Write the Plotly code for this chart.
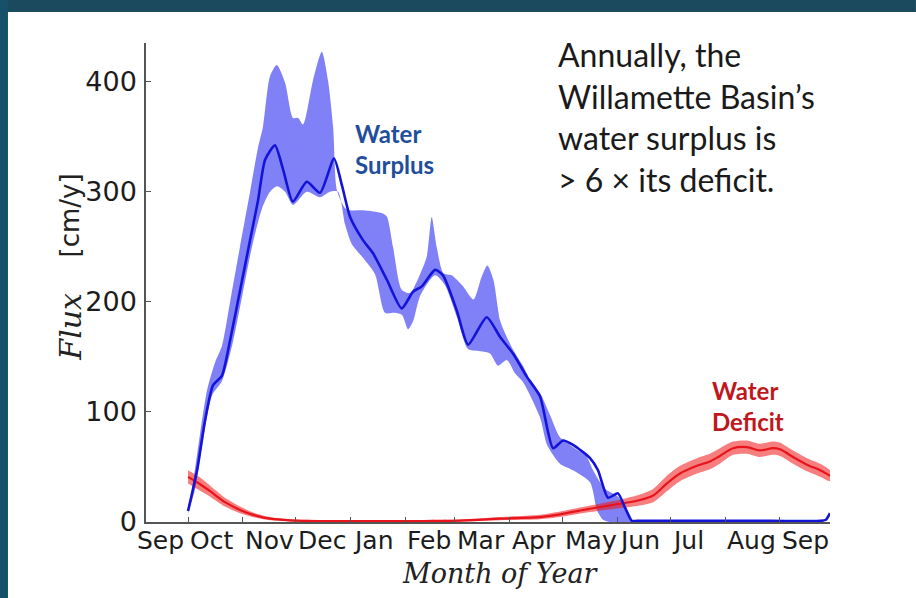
import plotly.graph_objects as go

# ---------------- data (x = days since Oct 1) ----------------
month_days = [-30, 0, 31, 61, 92, 123, 151, 182, 212, 243, 273, 304, 335]
month_labels = ['Sep', 'Oct', 'Nov', 'Dec', 'Jan', 'Feb', 'Mar', 'Apr', 'May', 'Jun', 'Jul', 'Aug', 'Sep']
y_ticks = [0, 100, 200, 300, 400]

surplus_x = [0, 5.1, 9.6, 14.1, 19.2, 23.8, 29.4, 35.1, 39.6, 43.6, 49.2, 53.8, 59.3, 67.2, 74.7,
             82.6, 87.2, 91.7, 99, 104.7, 112.5, 120.9, 127.3, 132.3, 139.8, 144.3, 152.1, 158.5,
             169, 176.6, 183.9, 191.7, 199.2, 206.6, 212.2, 217.9, 227.5, 232, 237.7, 243.3, 247.3,
             251.1, 254, 258, 265, 275, 290, 330, 358, 361, 363.3]
surplus_mean = [10, 47, 92, 124, 133, 165, 210, 256, 292, 329, 342, 320, 291, 309, 299,
                330, 305, 277, 256, 244, 220, 194, 209, 214, 229, 224, 192, 161,
                186, 168, 153, 132, 114, 67, 74, 70, 58, 47, 22, 26, 13,
                1, 1, 1, 1, 1, 1, 1, 1, 2, 8]

surplus_up_x = [0, 2.3, 6.8, 10.8, 15.3, 19.2, 23.8, 29.4, 35.1, 39.6, 42.4, 46.4, 50.2, 54.9, 59.4,
                62.3, 65.1, 70.7, 75.7, 79.2, 82.1, 84.3, 88.9, 91.7, 99, 110.4, 112.6, 116, 120.9,
                125.6, 131.3, 135.1, 137.9, 140.7, 144.5, 149.2, 155.6, 161.5, 166.2, 169.4, 172.8,
                176.6, 180.4, 184.1, 189.8, 194.7, 199.2, 204.9, 210.5, 217.9, 225.6, 229.2, 236,
                242.6, 248.3, 251.3]
surplus_up = [10, 30, 80, 120, 145, 160, 200, 250, 300, 340, 359, 405, 415, 399, 367,
              367, 361, 401, 427, 401, 359, 301, 285, 283, 283, 280, 277, 250, 211,
              208, 225, 241, 277, 250, 226, 224, 214, 202, 223, 233, 220,
              183, 168, 156, 141, 125, 117, 97, 77, 68, 59, 47, 30,
              24, 12, 0]

surplus_lo_x = [0, 4, 8.5, 13.6, 19.2, 24.9, 30.6, 36.2, 41.9, 46.4, 50.4, 54.9, 59.4, 67.2, 74.7,
                80.3, 84.9, 88.9, 92.8, 99, 105.8, 111.5, 117.1, 121.1, 124.5, 127.3, 131.3, 139.8,
                145.4, 152.2, 158.5, 165.3, 170.9, 175.4, 180.5, 185, 189.6, 199.2, 203.2, 210.5,
                217.9, 227.5, 231.4, 234.9, 238.9]
surplus_lo = [8, 30, 75, 115, 128, 160, 205, 250, 285, 300, 305, 300, 288, 300, 295,
              300, 300, 270, 252, 240, 225, 190, 190, 188, 175, 182, 205, 224,
              215, 186, 157, 155, 153, 142, 147, 135, 127, 95, 70, 53,
              47, 36, 11, 2, 0]

deficit_x = [0, 6.2, 12.5, 20.9, 29.4, 37.9, 46.4, 57.7, 74.7, 120, 154, 176.6, 199.2, 210.5, 227.5,
             246.2, 255.8, 263.2, 271, 278.4, 288, 295.3, 301, 308.4, 316.3, 323.6, 331, 335, 342.4,
             350.3, 357.7, 363.3]
deficit_mean = [41, 35, 28, 18, 11, 6, 3, 1.5, 0.8, 0.8, 1.2, 3, 4.5, 7, 12,
                17, 20, 24, 35, 44, 51, 55, 60, 67, 68, 65, 67, 66, 59,
                52, 47, 42]
deficit_up = [47, 41, 33, 22, 14, 8, 4.5, 2.5, 1.8, 1.8, 2.2, 4.5, 6.5, 9.5, 15,
              21, 25, 30, 42, 51, 58, 62, 67, 73, 74, 71, 73, 72, 65,
              58, 53, 47]
deficit_lo = [35, 29, 23, 14, 8, 4, 1.5, 0.5, 0, 0, 0.2, 1.5, 2.5, 4.5, 9,
              13, 15, 18, 28, 37, 44, 48, 53, 61, 62, 59, 61, 60, 53,
              46, 41, 37]

X_MIN, X_MAX = -23.8, 363.3
Y_MIN, Y_MAX = 0, 435

# ---------------- figure ----------------
fig = go.Figure()

fig.add_trace(go.Scatter(
    x=surplus_up_x + surplus_lo_x[::-1], y=surplus_up + surplus_lo[::-1],
    fill='toself', fillcolor='rgba(30,30,240,0.56)', mode='lines',
    line=dict(width=0, shape='spline', smoothing=0.7), hoverinfo='skip', showlegend=False))

fig.add_trace(go.Scatter(
    x=deficit_x + deficit_x[::-1], y=deficit_up + deficit_lo[::-1],
    fill='toself', fillcolor='rgba(240,20,20,0.55)', mode='lines',
    line=dict(width=0, shape='spline', smoothing=0.7), hoverinfo='skip', showlegend=False))

fig.add_trace(go.Scatter(
    x=deficit_x, y=deficit_mean, mode='lines',
    line=dict(color='#e8141c', width=2.2, shape='spline', smoothing=0.8), showlegend=False))

fig.add_trace(go.Scatter(
    x=surplus_x, y=surplus_mean, mode='lines',
    line=dict(color='#1414d8', width=2.6, shape='spline', smoothing=0.6), showlegend=False))

axis_col = '#555555'
fig.update_xaxes(range=[X_MIN, X_MAX], showgrid=False, zeroline=False,
                 showline=True, linecolor=axis_col, linewidth=1.5,
                 tickmode='array', tickvals=month_days, showticklabels=False,
                 ticks='inside', ticklen=5, tickcolor=axis_col, tickwidth=1)
fig.update_yaxes(range=[Y_MIN, Y_MAX], showgrid=False, zeroline=False,
                 showline=True, linecolor=axis_col, linewidth=1.5,
                 tickmode='array', tickvals=y_ticks, ticktext=[str(v) for v in y_ticks],
                 ticks='inside', ticklen=5, tickcolor=axis_col, tickwidth=1,
                 tickfont=dict(family='DejaVu Sans', size=27, color='#1c1c1c'),
                 ticklabelstandoff=2)

annotations = []
# month labels, left-aligned at each month start
for d, lab in zip(month_days, month_labels):
    annotations.append(dict(
        x=(d - X_MIN) / (X_MAX - X_MIN), xref='paper', xanchor='left',
        y=-0.038, yref='paper', yanchor='middle', text=lab, showarrow=False,
        font=dict(family='DejaVu Sans', size=25, color='#1c1c1c')))

annotations += [
    dict(x=0.5175, y=-0.107, xref='paper', yref='paper', xanchor='center', yanchor='middle',
         text='<i>Month of Year</i>', showarrow=False,
         font=dict(family='DejaVu Serif', size=27, color='#222222')),
    dict(x=-0.111, y=0.408, xref='paper', yref='paper', xanchor='center', yanchor='middle',
         text='<i>Flux</i>', textangle=-90, showarrow=False,
         font=dict(family='DejaVu Serif', size=30, color='#222222')),
    dict(x=-0.111, y=0.64, xref='paper', yref='paper', xanchor='center', yanchor='middle',
         text='[cm/y]', textangle=-90, showarrow=False,
         font=dict(family='DejaVu Sans', size=26, color='#222222')),
    dict(x=0.6, y=1.02, xref='paper', yref='paper', xanchor='left', yanchor='top', align='left',
         text='Annually, the<br>Willamette Basin\u2019s<br>water surplus is<br>&gt; 6 \u00d7 its deficit.',
         showarrow=False, font=dict(family='Lato', size=32, color='#1a1a1a')),
    dict(x=0.302, y=0.845, xref='paper', yref='paper', xanchor='left', yanchor='top', align='left',
         text='<b>Water<br>Surplus</b>', showarrow=False,
         font=dict(family='Lato', size=24, color='#1f4e9c')),
    dict(x=0.825, y=0.31, xref='paper', yref='paper', xanchor='left', yanchor='top', align='left',
         text='<b>Water<br>Deficit</b>', showarrow=False,
         font=dict(family='Lato', size=24, color='#c0171d')),
]

# slide frame (dark teal top and left edges)
shapes = [
    dict(type='rect', xref='paper', yref='paper', x0=-0.2135, x1=1.1257, y0=1.0647, y1=1.0898,
         fillcolor='#1b4a5f', line=dict(width=0), layer='below'),
    dict(type='rect', xref='paper', yref='paper', x0=-0.2135, x1=-0.2018, y0=-0.1587, y1=1.0898,
         fillcolor='#17506a', line=dict(width=0), layer='below'),
]

fig.update_layout(
    width=916, height=598,
    margin=dict(l=146, r=86, t=43, b=76),
    paper_bgcolor='white', plot_bgcolor='white',
    annotations=annotations, shapes=shapes, showlegend=False,
)

fig.write_html('out.html', config={'displayModeBar': False},
               post_script="document.body.style.margin='0';document.body.style.overflow='hidden';")
